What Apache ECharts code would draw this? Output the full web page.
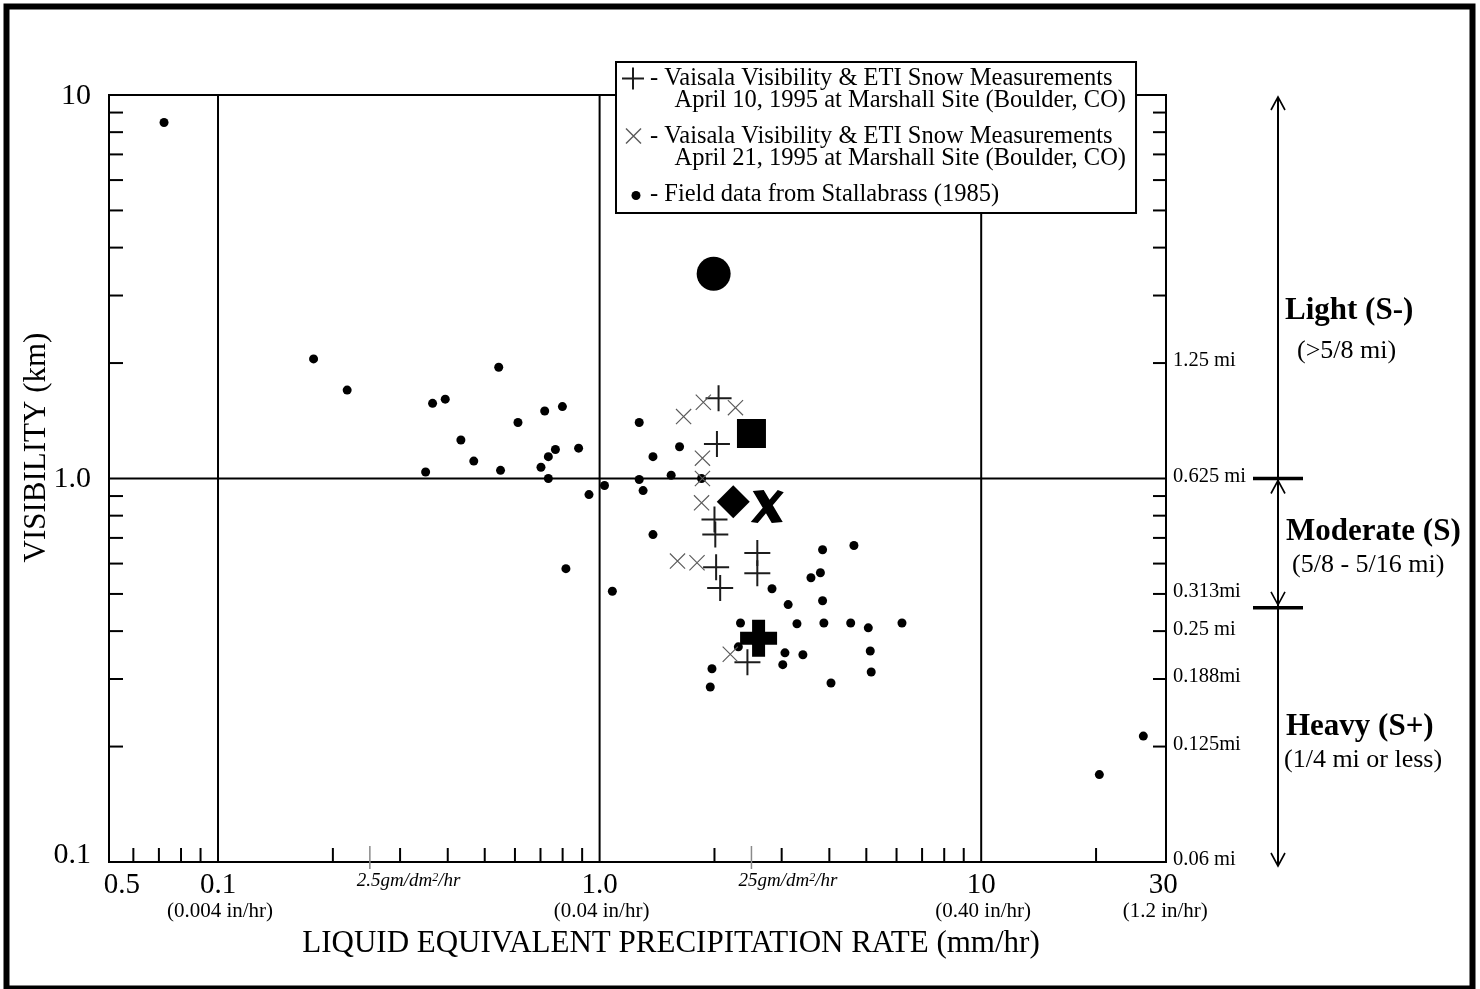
<!DOCTYPE html>
<html>
<head>
<meta charset="utf-8">
<script src="https://cdn.jsdelivr.net/npm/echarts@6/dist/echarts.min.js"></script>
<style>html,body{margin:0;padding:0;background:#fff}#c{width:1480px;height:989px}</style>
</head>
<body>
<div id="c"></div>
<script>
// ---------------- data ----------------
const stallabrassRate = [0.0722, 0.178, 0.218, 0.365, 0.394, 0.544, 0.433, 0.468, 0.350, 0.550, 0.611, 0.718, 0.799, 0.766, 0.734, 0.702, 0.734, 0.881, 0.938, 1.03, 1.27, 1.38, 1.27, 1.30, 1.38, 0.816, 1.08, 1.62, 1.54, 1.85, 3.84, 4.64, 3.79, 3.58, 2.83, 3.12, 3.84, 2.34, 3.29, 3.87, 4.55, 5.06, 6.20, 2.31, 3.06, 3.41, 5.12, 3.02, 1.97, 5.15, 4.04, 1.95, 20.4, 26.6];
const stallabrassVis  = [8.48, 2.05, 1.70, 1.57, 1.61, 1.95, 1.26, 1.11, 1.04, 1.05, 1.40, 1.50, 1.54, 1.19, 1.14, 1.07, 1.00, 1.20, 0.908, 0.959, 1.40, 1.14, 0.994, 0.930, 0.714, 0.582, 0.508, 1.21, 1.02, 1.00, 0.652, 0.669, 0.568, 0.551, 0.516, 0.469, 0.480, 0.420, 0.418, 0.420, 0.420, 0.408, 0.420, 0.364, 0.351, 0.347, 0.355, 0.327, 0.319, 0.313, 0.293, 0.286, 0.169, 0.213];

const april10Rate = [2.05, 2.03, 2.00, 2.01, 2.02, 2.59, 2.59, 2.07, 2.44];
const april10Vis  = [1.62, 1.23, 0.782, 0.714, 0.587, 0.639, 0.566, 0.518, 0.332];

const april21Rate = [1.87, 1.66, 2.27, 1.86, 1.86, 1.85, 1.60, 1.80, 2.20];
const april21Vis  = [1.58, 1.45, 1.53, 1.13, 1.00, 0.864, 0.609, 0.603, 0.348];

const specialRate   = [1.99, 2.50, 2.24, 2.75, 2.61];
const specialVis    = [3.42, 1.31, 0.870, 0.845, 0.383];
const specialShapes = ['circle', 'square', 'diamond', 'boldX', 'boldPlus'];

const xGridVals   = [0.1, 1, 10];
const yGridVals   = [1];
const xMinorTicks = [0.06, 0.07, 0.08, 0.09, 0.2, 0.3, 0.4, 0.5, 0.6, 0.7, 0.8, 0.9, 2, 3, 4, 5, 6, 7, 8, 9, 20];
const yMinorTicks = [0.2, 0.3, 0.4, 0.5, 0.6, 0.7, 0.8, 0.9, 2, 3, 4, 5, 6, 7, 8, 9];
const xGreyTicks  = [0.25, 2.5];
const xGreyTickLabels = ['2.5', '25'];
const xTickVals   = [0.056, 0.1, 1, 10, 30];
const xTickLabels = ['0.5', '0.1', '1.0', '10', '30'];
const xTickSubLabels = ['', '(0.004 in/hr)', '(0.04 in/hr)', '(0.40 in/hr)', '(1.2 in/hr)'];
const yTickVals   = [10, 1, 0.1];
const yTickLabels = ['10', '1.0', '0.1'];
const miTickVals   = [2, 1, 0.5, 0.4, 0.3, 0.2, 0.1];
const miTickLabels = ['1.25 mi', '0.625 mi', '0.313mi', '0.25 mi', '0.188mi', '0.125mi', '0.06 mi'];
const severityBounds = [10, 1, 0.46, 0.1];
const severityNames  = ['Light (S-)', 'Moderate (S)', 'Heavy (S+)'];
const severityRanges = ['(>5/8 mi)', '(5/8 - 5/16 mi)', '(1/4 mi or less)'];

// ---------------- styling ----------------
const X_MIN = 0.0518, X_MAX = 30.5, Y_MIN = 0.1, Y_MAX = 10;
const SERIF = '"Liberation Serif", "Times New Roman", serif';

const PLUS   = 'path://M12,0H14V12H26V14H14V26H12V14H0V12H12Z';
const XMARK  = 'path://M0,0.8L0.8,0L16,15.2L15.2,16Z M15.2,0L16,0.8L0.8,16L0,15.2Z';
const BOLDPLUS = 'path://M12,0H25V12H37V25H25V37H12V25H0V12H12Z';
const BOLDX  = 'path://M2,2L13,1L32,31L21,32Z M27,1L33,3L7,32L0,31Z';
const LEG_PLUS = 'path://M0,0 M24,44 M11,0H13V10H23V12H13V22H11V12H1V10H11Z';
const LEG_X    = 'path://M0,0 M24,44 M4.5,3.5L5.5,2.5L20.5,17.5L19.5,18.5Z M19.5,2.5L20.5,3.5L5.5,18.5L4.5,17.5Z';
const LEG_DOT  = 'path://M0,0 M24,44 M10.5,12A4.5,4.5 0 1,1 19.5,12A4.5,4.5 0 1,1 10.5,12Z';

const specialStyle = {
  circle:   {symbol: 'circle',  size: 34},
  square:   {symbol: 'rect',    size: 29},
  diamond:  {symbol: 'diamond', size: 33},
  boldX:    {symbol: BOLDX,     size: 33},
  boldPlus: {symbol: BOLDPLUS,  size: 37}
};

const legendText = {
  'April 10, 1995': '- Vaisala Visibility & ETI Snow Measurements\n    April 10, 1995 at Marshall Site (Boulder, CO)',
  'April 21, 1995': '- Vaisala Visibility & ETI Snow Measurements\n    April 21, 1995 at Marshall Site (Boulder, CO)',
  'Stallabrass (1985)': '- Field data from Stallabrass (1985)\n '
};

const zip = (a, b) => a.map((v, i) => [v, b[i]]);
function seg(p, q, stroke, w) {
  return {type: 'line', shape: {x1: p[0], y1: p[1], x2: q[0], y2: q[1]}, style: {stroke: stroke, lineWidth: w}};
}
function txt(x, y, s, opt) {
  return {type: 'text', x: x, y: y, style: Object.assign({text: s, fill: '#000', fontFamily: SERIF, align: 'center', verticalAlign: 'middle'}, opt || {})};
}
function arrowHead(x, tipY, dir) { // dir -1: points up, 1: points down
  return {type: 'polyline', shape: {points: [[x - 7, tipY - dir * 13], [x, tipY], [x + 7, tipY - dir * 13]]},
          style: {stroke: '#000', lineWidth: 1.6, fill: null}};
}
function deco(name, data, render) {
  return {type: 'custom', name: name, silent: true, clip: false, z: 1, data: data, renderItem: render};
}

const series = [
  deco('gridV', xGridVals.map(v => [v, Y_MIN]), (p, api) =>
    seg(api.coord([api.value(0), Y_MIN]), api.coord([api.value(0), Y_MAX]), '#000', 2)),
  deco('gridH', yGridVals.map(v => [X_MIN, v]), (p, api) =>
    seg(api.coord([X_MIN, api.value(1)]), api.coord([X_MAX, api.value(1)]), '#000', 2)),
  deco('xTicks', xMinorTicks.map(v => [v, Y_MIN]), (p, api) => {
    const c = api.coord([api.value(0), Y_MIN]);
    return seg(c, [c[0], c[1] - 14], '#000', 2);
  }),
  deco('yTicks', yMinorTicks.map(v => [X_MIN, v]), (p, api) => {
    const l = api.coord([X_MIN, api.value(1)]);
    const r = api.coord([X_MAX, api.value(1)]);
    return {type: 'group', children: [seg(l, [l[0] + 14, l[1]], '#000', 2), seg([r[0] - 13, r[1]], r, '#000', 2)]};
  }),
  deco('xGrey', xGreyTicks.map(v => [v, Y_MIN]), (p, api) => {
    const c = api.coord([api.value(0), Y_MIN]);
    return {type: 'group', children: [
      seg([c[0], c[1] - 16], [c[0], c[1] + 7], '#8a8a8a', 1.5),
      {type: 'text', x: c[0] - 13, y: c[1] + 19, style: {
        text: xGreyTickLabels[p.dataIndex] + 'gm/dm{s|2}/hr', fill: '#000', fontFamily: SERIF, fontStyle: 'italic',
        fontSize: 19, align: 'left', verticalAlign: 'middle',
        rich: {s: {fontSize: 12, fontStyle: 'italic', fontFamily: SERIF, verticalAlign: 'top', fill: '#000'}}}}
    ]};
  }),
  deco('xLabels', xTickVals.map(v => [v, Y_MIN]), (p, api) => {
    const c = api.coord([api.value(0), Y_MIN]);
    const ch = [txt(c[0], c[1] + 23, xTickLabels[p.dataIndex], {fontSize: 29})];
    if (xTickSubLabels[p.dataIndex]) ch.push(txt(c[0] + 2, c[1] + 49, xTickSubLabels[p.dataIndex], {fontSize: 21}));
    return {type: 'group', children: ch};
  }),
  deco('yLabels', yTickVals.map(v => [X_MIN, v]), (p, api) => {
    const v = api.value(1);
    const c = api.coord([X_MIN, v]);
    return txt(c[0] - 18, c[1] + (v === Y_MIN ? -7 : 1), yTickLabels[p.dataIndex], {fontSize: 30, align: 'right'});
  }),
  deco('miLabels', miTickVals.map(v => [X_MAX, v]), (p, api) => {
    const c = api.coord([X_MAX, api.value(1)]);
    return txt(c[0] + 7, c[1] - 2, miTickLabels[p.dataIndex], {fontSize: 20.5, align: 'left'});
  }),
  deco('severity', severityBounds.map(v => [X_MAX, v]), (p, api) => {
    const i = p.dataIndex, n = severityBounds.length;
    const c = api.coord([X_MAX, api.value(1)]);
    const ax = c[0] + 112;
    const ch = [];
    if (i === 0) {
      const b = api.coord([X_MAX, severityBounds[n - 1]]);
      ch.push(seg([ax, c[1] + 2], [ax, b[1] + 4], '#000', 2));
      ch.push(arrowHead(ax, c[1] + 2, -1));
    } else if (i === n - 1) {
      ch.push(arrowHead(ax, c[1] + 4, 1));
    } else {
      ch.push(seg([ax - 25, c[1]], [ax + 25, c[1]], '#000', 3.5));
      if (i === 1) ch.push(arrowHead(ax, c[1] + 2, -1));
      if (i === n - 2) ch.push(arrowHead(ax, c[1] - 3, 1));
    }
    return {type: 'group', children: ch};
  }),
  {
    type: 'scatter', name: 'special', z: 2, silent: true,
    data: specialRate.map((x, i) => ({value: [x, specialVis[i]], symbol: specialStyle[specialShapes[i]].symbol,
                                      symbolSize: specialStyle[specialShapes[i]].size})),
    itemStyle: {color: '#000', opacity: 1}
  },
  {type: 'scatter', name: 'Stallabrass (1985)', z: 3, data: zip(stallabrassRate, stallabrassVis),
   symbol: 'circle', symbolSize: 9, itemStyle: {color: '#000', opacity: 1}},
  {type: 'scatter', name: 'April 10, 1995', z: 4, data: zip(april10Rate, april10Vis),
   symbol: PLUS, symbolSize: 26, itemStyle: {color: '#1c1c1c', opacity: 1}},
  {type: 'scatter', name: 'April 21, 1995', z: 5, data: zip(april21Rate, april21Vis),
   symbol: XMARK, symbolSize: 16, itemStyle: {color: '#5a5a5a', opacity: 1}}
];

const sevNamePos  = [[1285, 311], [1286, 532], [1286, 727]];
const sevRangePos = [[1297, 351], [1292, 565], [1284, 760]];
const graphic = [
  {type: 'rect', silent: true, z: 100, shape: {x: 6.5, y: 6.5, width: 1466, height: 982},
   style: {fill: null, stroke: '#000', lineWidth: 6}}
];
severityNames.forEach((s, i) => {
  graphic.push({type: 'text', x: sevNamePos[i][0], y: sevNamePos[i][1], silent: true,
    style: {text: s, fill: '#000', fontFamily: SERIF, fontSize: 31, fontWeight: 'bold', align: 'left', verticalAlign: 'middle'}});
  graphic.push({type: 'text', x: sevRangePos[i][0], y: sevRangePos[i][1], silent: true,
    style: {text: severityRanges[i], fill: '#000', fontFamily: SERIF, fontSize: 26, align: 'left', verticalAlign: 'middle'}});
});

const option = {
  animation: false,
  backgroundColor: '#fff',
  textStyle: {fontFamily: SERIF},
  grid: {left: 109, top: 95, width: 1057, height: 767, show: true, borderColor: '#000', borderWidth: 2, backgroundColor: 'transparent'},
  xAxis: {
    type: 'log', logBase: 10, min: X_MIN, max: X_MAX,
    axisLine: {show: false}, axisTick: {show: false}, axisLabel: {show: false}, splitLine: {show: false},
    name: 'LIQUID EQUIVALENT PRECIPITATION RATE (mm/hr)', nameLocation: 'middle', nameGap: 66,
    nameTextStyle: {fontFamily: SERIF, fontSize: 31, color: '#000', padding: [0, 0, 0, 67]}
  },
  yAxis: {
    type: 'log', logBase: 10, min: Y_MIN, max: Y_MAX,
    axisLine: {show: false}, axisTick: {show: false}, axisLabel: {show: false}, splitLine: {show: false},
    name: 'VISIBILITY (km)', nameLocation: 'middle', nameGap: 57, nameRotate: 90,
    nameTextStyle: {fontFamily: SERIF, fontSize: 31, color: '#000', padding: [0, 0, 0, 62]}
  },
  legend: {
    orient: 'vertical', left: 616, top: 62, padding: [4, 10, -16, 5], itemGap: 11,
    itemWidth: 24, itemHeight: 44, selectedMode: false,
    backgroundColor: '#fff', borderColor: '#000', borderWidth: 2, borderRadius: 0,
    textStyle: {fontFamily: SERIF, fontSize: 24.5, lineHeight: 22, color: '#000'},
    itemStyle: {borderWidth: 0},
    formatter: name => legendText[name],
    data: [
      {name: 'April 10, 1995', icon: LEG_PLUS},
      {name: 'April 21, 1995', icon: LEG_X},
      {name: 'Stallabrass (1985)', icon: LEG_DOT}
    ]
  },
  graphic: graphic,
  series: series
};

const chart = echarts.init(document.getElementById('c'), null, {renderer: 'canvas', width: 1480, height: 989});
chart.setOption(option);
</script>
</body>
</html>
